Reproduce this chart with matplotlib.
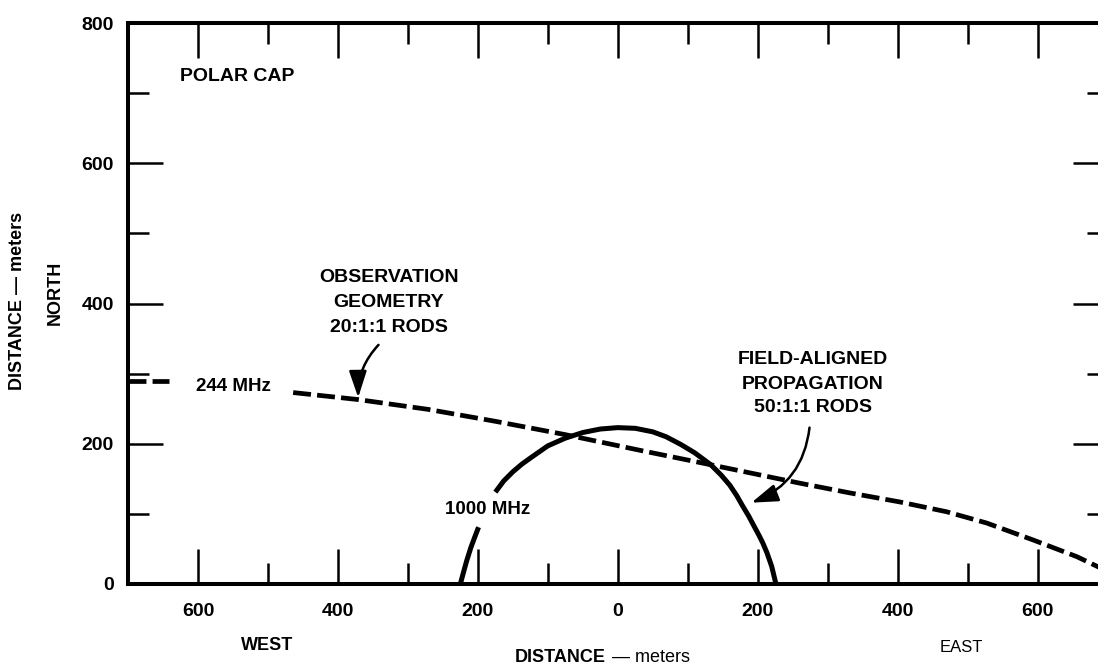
import numpy as np
import matplotlib
matplotlib.use("Agg")
import matplotlib.pyplot as plt
from matplotlib.ticker import MultipleLocator, FuncFormatter

plt.rcParams['font.family'] = ['Liberation Sans', 'DejaVu Sans']

# 244 MHz dashed curve (observation geometry, 20:1:1 rods) — two pieces around its label
obs_x1 = [-700, -641]
obs_y1 = [290, 290]
obs_x2 = [-464, -371, -271, -175, -75, 30, 133, 259, 331, 403, 470, 527, 593, 656, 700]
obs_y2 = [273, 263, 249, 232, 213, 191, 170, 144, 130, 117, 103, 87, 63, 39, 18]

# 1000 MHz solid arc (field-aligned propagation, 50:1:1 rods) — two pieces around its label
fa_x1 = [-225, -221, -216, -210, -204, -199]
fa_y1 = [0, 15, 33, 52, 68, 81]
fa_x2 = [-175, -163, -150, -137, -123, -100, -75, -50, -25, 0, 25, 50, 69, 90, 110,
         133, 148, 160, 170, 178, 187, 195, 202, 207, 213, 220, 226]
fa_y2 = [131, 147, 160, 171, 181, 197, 208, 216, 221, 223, 222, 217, 210, 199, 187,
         170, 155, 141, 126, 112, 97, 82, 69, 59, 45, 25, 0]

W, H = 1098, 664
fig = plt.figure(figsize=(W / 100, H / 100), dpi=100)
ax = fig.add_axes([128 / W, 80 / H, 979.6 / W, 561 / H])
ax.set_xlim(-700, 700)
ax.set_ylim(0, 800)

lw_curve = 3.4
ax.plot(obs_x1, obs_y1, color='k', lw=lw_curve, linestyle=(0, (3.8, 1.3)))
ax.plot(obs_x2, obs_y2, color='k', lw=lw_curve, linestyle=(0, (3.8, 1.3)))
ax.plot(fa_x1, fa_y1, color='k', lw=3.6, solid_capstyle='butt', solid_joinstyle='round')
ax.plot(fa_x2, fa_y2, color='k', lw=3.6, solid_capstyle='butt', solid_joinstyle='round')

# spines / ticks
for s in ax.spines.values():
    s.set_linewidth(2.9)
ax.xaxis.set_major_locator(MultipleLocator(200))
ax.xaxis.set_minor_locator(MultipleLocator(100))
ax.yaxis.set_major_locator(MultipleLocator(200))
ax.yaxis.set_minor_locator(MultipleLocator(100))
ax.tick_params(which='both', direction='in', top=True, right=True, width=1.8, color='k')
ax.tick_params(which='major', length=25)
ax.tick_params(which='minor', length=15)
ax.tick_params(axis='x', which='major', pad=14, labelsize=14)
ax.tick_params(axis='y', which='major', pad=10, labelsize=14)
ax.xaxis.set_major_formatter(FuncFormatter(lambda v, p: f"{abs(int(round(v)))}"))
ax.yaxis.set_major_formatter(FuncFormatter(lambda v, p: f"{int(round(v))}"))
for lab in ax.get_xticklabels() + ax.get_yticklabels():
    lab.set_fontweight('bold')

fs = 14
# annotations inside
ax.text(-626, 723, "POLAR CAP", fontsize=fs, fontweight='bold', ha='left', va='center')
for t, yy in zip(["OBSERVATION", "GEOMETRY", "20:1:1 RODS"], [437, 401, 366]):
    ax.text(-327, yy, t, fontsize=fs, fontweight='bold', ha='center', va='center')
for t, yy in zip(["FIELD-ALIGNED", "PROPAGATION", "50:1:1 RODS"], [320, 284, 251]):
    ax.text(279, yy, t, fontsize=fs, fontweight='bold', ha='center', va='center')
ax.text(-550, 281, "244 MHz", fontsize=13.5, fontweight='bold', ha='center', va='center')
ax.text(-186, 106, "1000 MHz", fontsize=13.5, fontweight='bold', ha='center', va='center')

ax.annotate('', xy=(-371, 266), xytext=(-342, 341),
            arrowprops=dict(arrowstyle='-|>,head_length=0.9,head_width=0.3', color='k', lw=1.8,
                            mutation_scale=18, shrinkA=0, shrinkB=0,
                            connectionstyle='arc3,rad=0.2'))
ax.annotate('', xy=(191, 116), xytext=(274, 223),
            arrowprops=dict(arrowstyle='-|>,head_length=0.9,head_width=0.3', color='k', lw=1.8,
                            mutation_scale=18, shrinkA=0, shrinkB=0,
                            connectionstyle='arc3,rad=-0.3'))

# outer labels (figure pixel coords)
def ft(x, y, s, **kw):
    return fig.text(x / W, 1 - y / H, s, **kw)

t1 = ft(515, 657, "DISTANCE", fontsize=13, fontweight='bold', ha='left', va='center')
fig.add_artist(matplotlib.text.Annotation("\u2014 meters", xy=(1, 0.5), xycoords=t1,
                                          xytext=(4, 0), textcoords='offset points',
                                          fontsize=13, ha='left', va='center'))
ft(267, 645, "WEST", fontsize=13, fontweight='bold', ha='center', va='center')
ft(961, 648, "EAST", fontsize=12, ha='center', va='center')
ft(18, 301, "DISTANCE \u2014 meters", fontsize=13, fontweight='bold', ha='center', va='center',
   rotation=90)
ft(55, 293, "NORTH", fontsize=13, fontweight='bold', ha='center', va='center', rotation=90)

fig.savefig("out.png", dpi=100)
